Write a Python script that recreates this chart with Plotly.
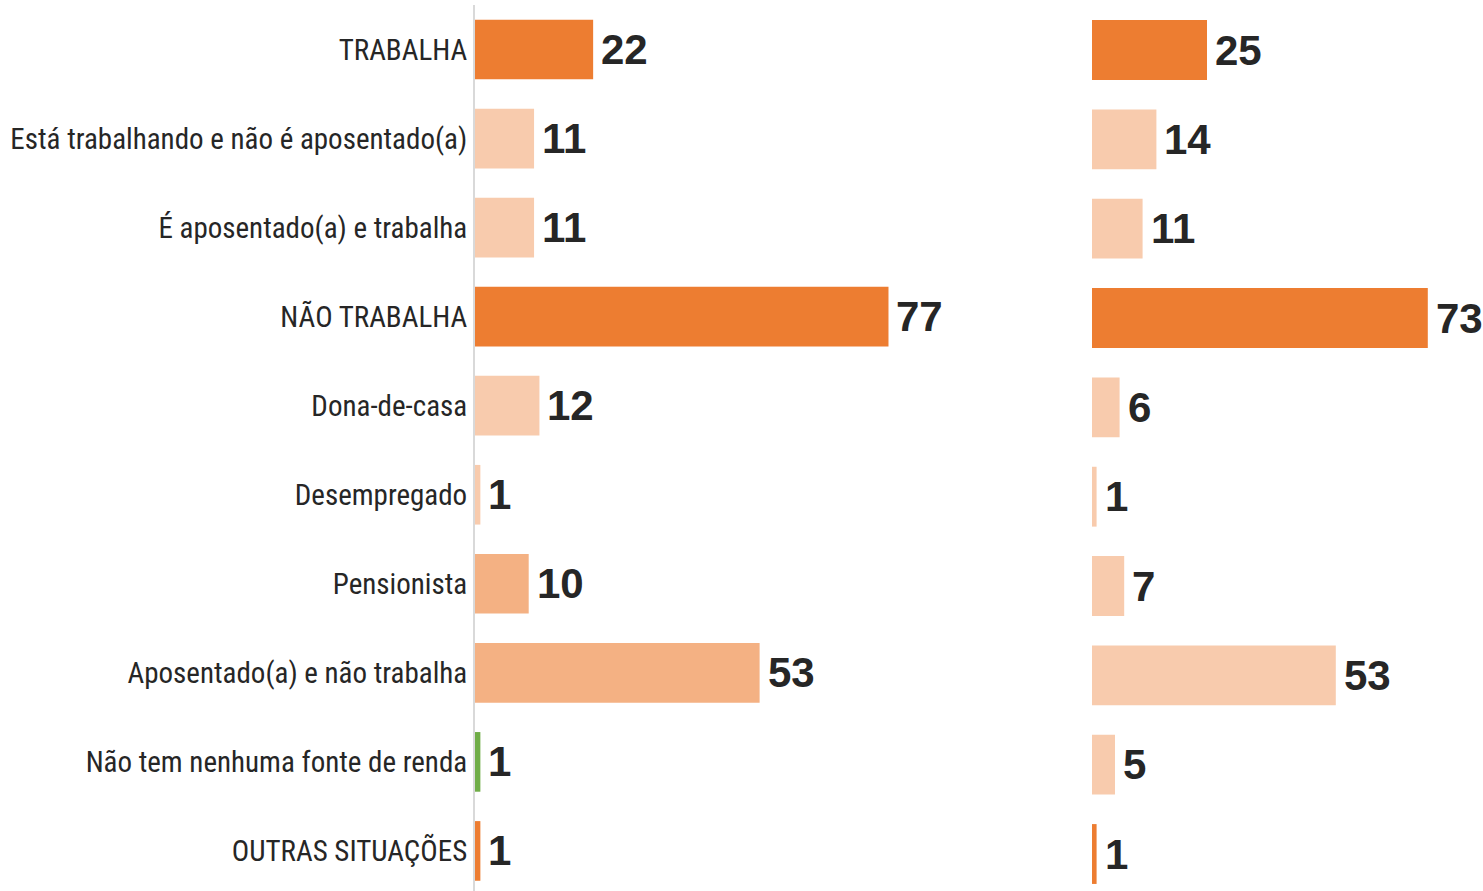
import plotly.graph_objects as go

categories = [
    "TRABALHA",
    "Está trabalhando e não é aposentado(a)",
    "É aposentado(a) e trabalha",
    "NÃO TRABALHA",
    "Dona-de-casa",
    "Desempregado",
    "Pensionista",
    "Aposentado(a) e não trabalha",
    "Não tem nenhuma fonte de renda",
    "OUTRAS SITUAÇÕES",
]
left_values = [22, 11, 11, 77, 12, 1, 10, 53, 1, 1]
right_values = [25, 14, 11, 73, 6, 1, 7, 53, 5, 1]

DARK = "#ED7D31"
LIGHT = "#F8CBAD"
MED = "#F4B183"
GREEN = "#70AD47"
left_colors = [DARK, LIGHT, LIGHT, DARK, LIGHT, LIGHT, MED, MED, GREEN, DARK]
right_colors = [DARK, LIGHT, LIGHT, DARK, LIGHT, LIGHT, LIGHT, LIGHT, LIGHT, DARK]

LABEL_FONT = "Liberation Sans Narrow, Arial Narrow, Roboto Condensed, Liberation Sans, Arial, sans-serif"
VALUE_FONT = "Liberation Sans, Arial, sans-serif"

W, H = 1483, 891
fig = go.Figure()
fig.add_trace(go.Bar(
    y=categories, x=left_values, orientation="h",
    marker=dict(color=left_colors, line=dict(width=0)),
    width=0.67, xaxis="x", yaxis="y", showlegend=False, hoverinfo="x+y",
))
fig.add_trace(go.Bar(
    y=categories, x=right_values, orientation="h",
    marker=dict(color=right_colors, line=dict(width=0)),
    width=0.67, xaxis="x2", yaxis="y2", showlegend=False, hoverinfo="x+y",
))

annotations = []
for xr, yr, vals in (("x", "y", left_values), ("x2", "y2", right_values)):
    for cat, v in zip(categories, vals):
        annotations.append(dict(
            x=v, y=cat, xref=xr, yref=yr, text=str(v), showarrow=False,
            xanchor="left", yanchor="middle", xshift=6, yshift=0,
            font=dict(family=VALUE_FONT, size=42, color="#262626", weight="bold"),
        ))

fig.update_layout(
    width=W, height=H,
    margin=dict(l=0, r=0, t=5, b=0),
    paper_bgcolor="white", plot_bgcolor="white",
    annotations=annotations,
    xaxis=dict(domain=[475 / W, 1060 / W], range=[0, 585 / 5.37],
               showgrid=False, zeroline=False, showticklabels=False, showline=False),
    yaxis=dict(anchor="x", type="category", range=[9.45, -0.5],
               showgrid=False, zeroline=False, showline=True, linecolor="#D9D9D9", linewidth=2,
               ticks="", ticklabelstandoff=0,
               tickfont=dict(family=LABEL_FONT, size=29, color="#262626")),
    xaxis2=dict(domain=[1092 / W, 1.0], range=[0, 391 / 4.6], anchor="y2",
                showgrid=False, zeroline=False, showticklabels=False, showline=False),
    yaxis2=dict(anchor="x2", type="category", range=[9.414, -0.504],
                showgrid=False, zeroline=False, showline=False, showticklabels=False, ticks=""),
)

fig.write_html("out.html", config={"displayModeBar": False},
               post_script="document.body.style.margin='0';")
